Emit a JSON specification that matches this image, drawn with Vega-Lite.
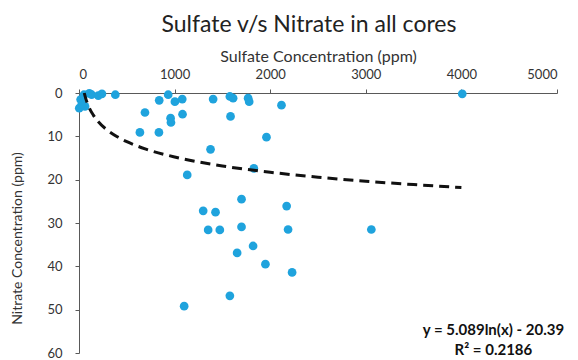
{
  "$schema": "https://vega.github.io/schema/vega-lite/v6.json",
  "width": 478,
  "height": 260,
  "autosize": {"type": "none"},
  "padding": {"left": 79, "top": 93, "right": 21, "bottom": 7},
  "background": "white",
  "title": {
    "text": "Sulfate v/s Nitrate in all cores",
    "font": "Lato",
    "fontSize": 23,
    "fontWeight": "normal",
    "color": "#222222",
    "anchor": "middle",
    "offset": 11,
    "dx": -9
  },
  "config": {
    "view": {"stroke": null},
    "font": "Lato",
    "axis": {
      "grid": false,
      "domainColor": "#595959",
      "tickColor": "#595959",
      "tickSize": 4,
      "labelFont": "Lato",
      "labelFontSize": 13,
      "labelColor": "#333333",
      "titleFont": "Lato",
      "titleFontSize": 16,
      "titleFontWeight": "normal",
      "titleColor": "#333333"
    }
  },
  "datasets": {
    "cores": [
      {"sulfate": 17, "nitrate": 1.5},
      {"sulfate": 3, "nitrate": 3.5},
      {"sulfate": 63, "nitrate": 3.1},
      {"sulfate": 30, "nitrate": 2.5},
      {"sulfate": 52, "nitrate": 0.4},
      {"sulfate": 108, "nitrate": 0.1},
      {"sulfate": 132, "nitrate": 0.4},
      {"sulfate": 202, "nitrate": 0.6},
      {"sulfate": 240, "nitrate": 0.2},
      {"sulfate": 380, "nitrate": 0.4},
      {"sulfate": 839, "nitrate": 1.7},
      {"sulfate": 933, "nitrate": 0.4},
      {"sulfate": 1003, "nitrate": 2.0},
      {"sulfate": 1080, "nitrate": 1.4},
      {"sulfate": 690, "nitrate": 4.5},
      {"sulfate": 637, "nitrate": 9.1},
      {"sulfate": 836, "nitrate": 9.1},
      {"sulfate": 958, "nitrate": 5.8},
      {"sulfate": 962, "nitrate": 6.8},
      {"sulfate": 1083, "nitrate": 4.9},
      {"sulfate": 1132, "nitrate": 18.9},
      {"sulfate": 1403, "nitrate": 1.4},
      {"sulfate": 1376, "nitrate": 13.0},
      {"sulfate": 1578, "nitrate": 0.8},
      {"sulfate": 1612, "nitrate": 1.2},
      {"sulfate": 1585, "nitrate": 5.4},
      {"sulfate": 1769, "nitrate": 1.2},
      {"sulfate": 1780, "nitrate": 2.0},
      {"sulfate": 1829, "nitrate": 17.4},
      {"sulfate": 1961, "nitrate": 10.2},
      {"sulfate": 2118, "nitrate": 2.8},
      {"sulfate": 1700, "nitrate": 24.5},
      {"sulfate": 2172, "nitrate": 26.1},
      {"sulfate": 1299, "nitrate": 27.2},
      {"sulfate": 1428, "nitrate": 27.5},
      {"sulfate": 1351, "nitrate": 31.6},
      {"sulfate": 1473, "nitrate": 31.6},
      {"sulfate": 1700, "nitrate": 30.9},
      {"sulfate": 2187, "nitrate": 31.5},
      {"sulfate": 1821, "nitrate": 35.3},
      {"sulfate": 1654, "nitrate": 36.9},
      {"sulfate": 1950, "nitrate": 39.5},
      {"sulfate": 2229, "nitrate": 41.4},
      {"sulfate": 1578, "nitrate": 46.8},
      {"sulfate": 1100, "nitrate": 49.2},
      {"sulfate": 3058, "nitrate": 31.5},
      {"sulfate": 4009, "nitrate": 0.2}
    ],
    "trend": [
      {"sulfate": 55, "nitrate": 0.0},
      {"sulfate": 70, "nitrate": 1.23},
      {"sulfate": 100, "nitrate": 3.05},
      {"sulfate": 150, "nitrate": 5.11},
      {"sulfate": 200, "nitrate": 6.57},
      {"sulfate": 300, "nitrate": 8.64},
      {"sulfate": 400, "nitrate": 10.10},
      {"sulfate": 500, "nitrate": 11.24},
      {"sulfate": 700, "nitrate": 12.95},
      {"sulfate": 1000, "nitrate": 14.76},
      {"sulfate": 1500, "nitrate": 16.83},
      {"sulfate": 2000, "nitrate": 18.29},
      {"sulfate": 2500, "nitrate": 19.43},
      {"sulfate": 3000, "nitrate": 20.36},
      {"sulfate": 3500, "nitrate": 21.14},
      {"sulfate": 4000, "nitrate": 21.82}
    ],
    "fit": [
      {"sulfate": 4335, "nitrate": 54.8, "label": "y = 5.089ln(x) - 20.39"},
      {"sulfate": 4335, "nitrate": 59.2, "label": "R² = 0.2186"}
    ]
  },
  "layer": [
    {
      "data": {"name": "cores"},
      "mark": {"type": "circle", "size": 76, "color": "#1FA3DD", "opacity": 1},
      "encoding": {
        "x": {
          "field": "sulfate",
          "type": "quantitative",
          "scale": {"domain": [0, 5000], "nice": false},
          "axis": {
            "orient": "top",
            "title": "Sulfate Concentration (ppm)",
            "values": [0, 1000, 2000, 3000, 4000, 5000],
            "format": "d",
            "labelPadding": 8,
            "titlePadding": 4
          }
        },
        "y": {
          "field": "nitrate",
          "type": "quantitative",
          "scale": {"domain": [0, 60], "reverse": true, "nice": false},
          "axis": {
            "title": "Nitrate  Concentration (ppm)",
            "titleFontSize": 14,
            "values": [0, 10, 20, 30, 40, 50, 60],
            "labelPadding": 13,
            "titlePadding": 22,
            "titleY": 145
          }
        }
      }
    },
    {
      "data": {"name": "trend"},
      "mark": {"type": "line", "color": "#111111", "strokeWidth": 3, "strokeDash": [10, 6], "interpolate": "monotone"},
      "encoding": {
        "x": {"field": "sulfate", "type": "quantitative"},
        "y": {"field": "nitrate", "type": "quantitative"}
      }
    },
    {
      "data": {"name": "fit"},
      "mark": {"type": "text", "font": "Lato", "fontSize": 15, "fontWeight": "bold", "color": "#111111", "align": "center", "baseline": "middle"},
      "encoding": {
        "x": {"field": "sulfate", "type": "quantitative"},
        "y": {"field": "nitrate", "type": "quantitative"},
        "text": {"field": "label"}
      }
    }
  ]
}
